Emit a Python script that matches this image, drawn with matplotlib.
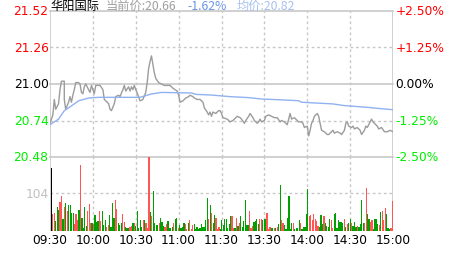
import numpy as np
import matplotlib
matplotlib.use("Agg")
import matplotlib.pyplot as plt

# ---------------- data ----------------
stock_name = "华阳国际"
prev_close = 21.00
last_price = 20.66
change_pct = "-1.62%"
avg_price = 20.82

price_ticks = [21.52, 21.26, 21.00, 20.74, 20.48]
pct_labels = ["+2.50%", "+1.25%", "0.00%", "-1.25%", "-2.50%"]
time_labels = ["09:30", "10:00", "10:30", "11:00", "11:30", "13:30", "14:00", "14:30", "15:00"]
vol_tick = 104
vol_top = 203

price_min = [0, 2, 3, 4, 6, 7, 8, 10, 10, 11, 13, 14, 15, 16, 17, 18, 20, 21, 22, 23, 24, 25,
             27, 28, 29, 30, 31, 32, 34, 35, 37, 38, 41, 42, 43, 45, 46, 48, 49, 51, 52, 53,
             55, 56, 57, 58, 59, 60, 62, 63, 65, 67, 68, 69, 70, 71, 72, 73, 74, 76, 78, 80,
             82, 84, 86, 89, 90, 91, 93, 95, 97, 98, 100, 101, 103, 105, 107, 108, 110, 111,
             112, 113, 114, 116, 118, 119, 120, 121, 124, 126, 128, 129, 131, 133, 134, 136,
             137, 139, 140, 142, 143, 145, 146, 147, 148, 150, 151, 153, 155, 157, 159, 161,
             162, 164, 166, 168, 169, 171, 173, 174, 176, 177, 178, 180, 181, 182, 183, 184,
             185, 187, 188, 189, 190, 192, 194, 195, 197, 198, 199, 201, 203, 204, 206, 207,
             208, 209, 211, 212, 213, 215, 217, 218, 220, 221, 222, 223, 225, 226, 227, 229,
             230, 232, 234, 236, 238, 240]
price_val = [20.72, 20.78, 20.89, 20.82, 20.86, 20.96, 21.02, 21.02, 20.89, 20.82, 20.87, 20.91,
             20.87, 20.92, 20.96, 21.01, 21.01, 21.00, 20.94, 20.93, 20.98, 21.00, 20.96, 20.94,
             20.99, 20.96, 20.93, 20.99, 20.99, 20.99, 20.96, 20.89, 20.86, 20.82, 20.81, 20.86,
             20.91, 20.92, 20.91, 20.96, 20.99, 20.95, 20.98, 20.95, 20.98, 20.96, 20.99, 20.96,
             20.91, 20.88, 20.89, 20.94, 21.01, 21.11, 21.16, 21.20, 21.14, 21.08, 21.04, 21.01,
             21.00, 20.99, 20.99, 20.99, 20.97, 20.95, 20.92, 20.87, 20.88, 20.90, 20.91, 20.92,
             20.91, 20.90, 20.89, 20.89, 20.87, 20.83, 20.80, 20.78, 20.80, 20.77, 20.80, 20.79,
             20.81, 20.81, 20.79, 20.76, 20.75, 20.73, 20.74, 20.75, 20.77, 20.76, 20.75, 20.72,
             20.74, 20.77, 20.79, 20.76, 20.74, 20.72, 20.73, 20.75, 20.73, 20.74, 20.77, 20.78,
             20.77, 20.76, 20.76, 20.73, 20.74, 20.73, 20.71, 20.79, 20.75, 20.76, 20.74, 20.73,
             20.73, 20.72, 20.69, 20.70, 20.63, 20.67, 20.72, 20.74, 20.77, 20.79, 20.77, 20.72,
             20.67, 20.66, 20.64, 20.64, 20.66, 20.67, 20.65, 20.66, 20.65, 20.64, 20.67, 20.72,
             20.73, 20.70, 20.69, 20.70, 20.68, 20.69, 20.67, 20.64, 20.67, 20.70, 20.69, 20.71,
             20.75, 20.73, 20.72, 20.70, 20.68, 20.69, 20.66, 20.66, 20.67, 20.66]

avg_min = [0, 6, 10, 13, 20, 27, 34, 55, 63, 67, 71, 78, 99, 102, 112, 126, 139, 148, 160,
           174, 176, 198, 206, 222, 234, 240]
avg_val = [20.71, 20.75, 20.81, 20.83, 20.88, 20.90, 20.905, 20.905, 20.905, 20.917, 20.929,
           20.94, 20.936, 20.926, 20.922, 20.91, 20.903, 20.893, 20.888, 20.881, 20.87, 20.858,
           20.846, 20.834, 20.822, 20.817]

vol_val = [174, 46, 49, 28, 65, 58, 79, 97, 32, 65, 77, 56, 72, 72, 49, 49, 19, 46, 31, 58,
           181, 37, 7, 65, 14, 56, 74, 23, 21, 18, 44, 25, 28, 56, 28, 56, 16, 30, 12, 16,
           44, 12, 77, 37, 85, 60, 21, 16, 21, 46, 25, 12, 8, 7, 12, 14, 21, 21, 14, 56,
           9, 30, 11, 30, 30, 21, 9, 203, 51, 42, 110, 21, 16, 16, 21, 37, 25, 14, 11, 18,
           28,
           7, 9, 12, 23, 32, 37, 7, 16, 7, 12, 21, 19, 5, 21, 30, 5, 16, 19, 5, 11,
           5, 9, 19, 12, 12, 30, 90, 32, 72, 49, 23, 44, 37, 5, 12, 5, 30, 16, 34, 32,
           9, 19, 40, 40, 9, 7, 37, 14, 21, 40, 12, 28, 84, 16, 16, 55, 7, 14, 25, 28,
           34, 19, 34, 32, 30, 32, 32, 49, 5, 12, 9, 9, 9, 9, 12, 19, 125, 30, 21, 16, 5,
           37, 95, 5, 21, 21, 5, 7, 9, 30, 21, 5, 12, 12, 46, 116, 42, 44, 30, 46, 32,
           28, 14, 12, 44, 19, 42, 21, 14, 11, 32, 30, 9, 46, 49, 9, 30, 25, 25, 21, 34,
           12, 18, 21, 32, 21, 14, 25, 12, 14, 12, 18, 86, 23, 23, 119, 46, 32, 25, 30, 5,
           34, 32, 19, 16, 51, 56, 30, 63, 46, 7, 5, 9, 81]
vol_dir = ("krrgggrrgr grggggrrrg rggggrrrgr gggrrgggrr ggggrrgggr rgggrrgrgg gggrgrrrgr ggggrgggrrg"
           " gggrggrggg grrgrrrggg gggggggrgr ggrrrggggg gggrrgrgrg gggggrrrgg ggrrgggrrr ggrgrggrrgg"
           " ggggrggggr gggggrrrrr rrgggrgggg rrgggggggr grggrgggrg gggrrggrrg gggrgrrrgggrr").replace(" ", "")

# ---------------- style ----------------
RED = "#ff0000"
GREEN = "#00ee00"
GRID = "#c8c8c8"
VRED = "#ff5555"
VGREEN = "#00a000"
CJK = ["Noto Sans CJK SC", "DejaVu Sans"]

W, H = 463, 255
fig = plt.figure(figsize=(W / 100, H / 100), dpi=100)
fig.patch.set_facecolor("white")

L, R = 50, 393
top_p, bot_p, bot_v = 12, 158, 232
axp = fig.add_axes([L / W, 1 - bot_p / H, (R - L) / W, (bot_p - top_p) / H])
axv = fig.add_axes([L / W, 1 - bot_v / H, (R - L) / W, (bot_v - bot_p) / H])

n_min = 240
for ax in (axp, axv):
    ax.set_xlim(0, n_min)
    ax.set_xticks([])
    ax.set_yticks([])
    for s in ax.spines.values():
        s.set_visible(False)
    ax.patch.set_alpha(0)
    for k in range(1, 8):
        ax.axvline(k * 30, color=GRID, lw=1, ls=(0, (2, 2)), zorder=0)
    ax.axvline(0, color=GRID, lw=1.2, zorder=1)
    ax.axvline(n_min, color=GRID, lw=1.2, zorder=1)

axp.set_ylim(price_ticks[-1], price_ticks[0])
for i, t in enumerate(price_ticks):
    solid = i % 2 == 0
    axp.axhline(t, color=GRID, lw=1.2 if solid else 1,
                ls="-" if solid else (0, (2, 2)), zorder=0, clip_on=False)
    col = RED if t > prev_close else ("black" if t == prev_close else GREEN)
    axp.text(-1.0, t, f"{t:.2f}", ha="right", va="center", fontsize=8.8, color=col,
             clip_on=False)
    axp.text(n_min + 1.6, t, pct_labels[i], ha="left", va="center", fontsize=8.8, color=col,
             clip_on=False)

axp.plot(price_min, price_val, color="#9c9c9c", lw=1.0, zorder=2)
axp.plot(avg_min, avg_val, color="#8fb2f0", lw=1.0, zorder=2)

axv.set_ylim(0, vol_top)
axv.axhline(vol_tick, color=GRID, lw=1, ls=(0, (2, 2)), zorder=0)
axv.text(-1.0, vol_tick, str(vol_tick), ha="right", va="center", fontsize=8.8,
         color="#c0c0c0", clip_on=False)
cmap = {"k": "black", "r": VRED, "g": VGREEN}
nv = len(vol_val)
xs = np.linspace(0.9, n_min - 0.4, nv)
cols = [cmap[vol_dir[i]] if i < len(vol_dir) else VGREEN for i in range(nv)]
axv.bar(xs, vol_val, width=0.85, color=cols, linewidth=0, zorder=2, antialiased=False)

for k, lab in enumerate(time_labels):
    axv.text(k * 30, -0.11, lab, transform=axv.get_xaxis_transform(), ha="center", va="center",
             fontsize=8.8, color="black", clip_on=False)

# title row
fig.text(50 / W, 1 - 0 / H, stock_name, ha="left", va="top", fontsize=8.8, family=CJK, color="black")
fig.text(106 / W, 1 - 0 / H, f"当前价:{last_price:.2f}", ha="left", va="top", fontsize=8.8,
         family=CJK, color="#a0a0a0")
fig.text(187 / W, 1 - 0 / H, change_pct, ha="left", va="top", fontsize=8.8, family=CJK,
         color="#6a96e6")
fig.text(237 / W, 1 - 0 / H, f"均价:{avg_price:.2f}", ha="left", va="top", fontsize=8.8,
         family=CJK, color="#a8c2f0")

fig.savefig("out.png", dpi=100, facecolor="white")
